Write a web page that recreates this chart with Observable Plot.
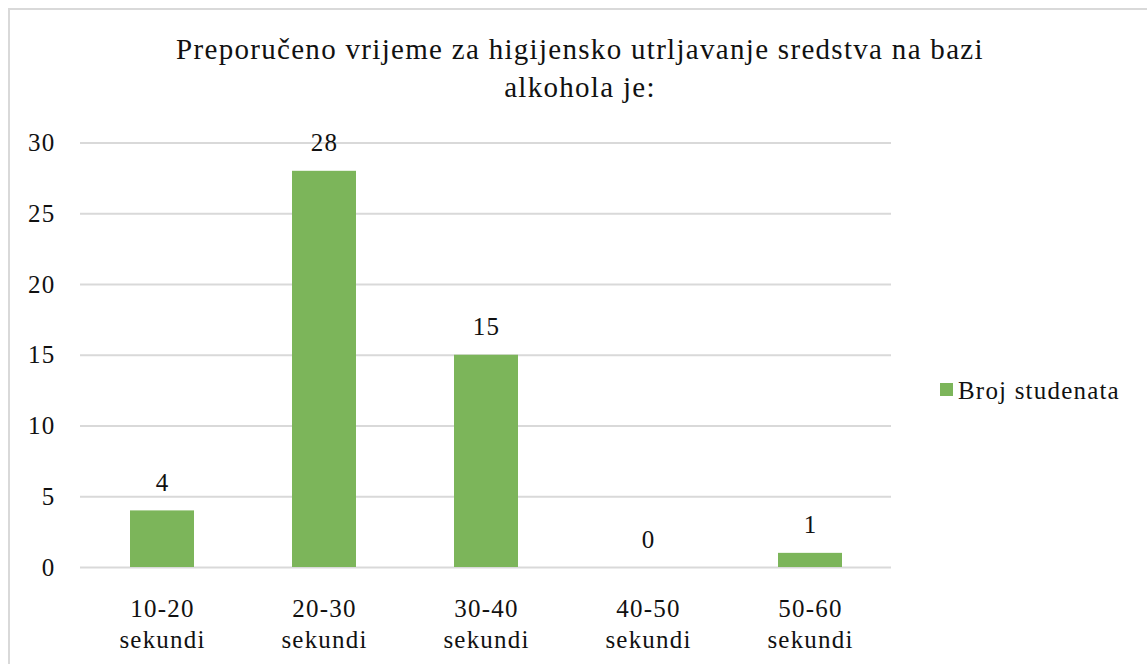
<!DOCTYPE html>
<html>
<head>
<meta charset="utf-8">
<script src="https://cdn.jsdelivr.net/npm/d3@7"></script>
<script src="https://cdn.jsdelivr.net/npm/@observablehq/plot@0.6"></script>
<style>
  html, body { margin: 0; padding: 0; background: #fff; overflow: hidden; }
  #wrap { position: relative; width: 1147px; height: 664px; overflow: hidden;
          font-family: "Liberation Serif", LiberationSerif, Tinos, "Times New Roman", Times, "DejaVu Serif", serif; color: #111; }
  #frame { position: absolute; left: 8px; top: 8px; width: 1200px; height: 700px;
           border: 2px solid #d9d9d9; box-sizing: border-box; }
  #title { position: absolute; left: 0; top: 30px; width: 1160px; text-align: center;
           font-size: 29px; line-height: 38px; letter-spacing: 1.3px; }
  #chart { position: absolute; left: 0; top: 110px; }
  #chart svg text { letter-spacing: 1.2px; font-family: "Liberation Serif", LiberationSerif, Tinos, "Times New Roman", Times, "DejaVu Serif", serif; }
  #swatch { position: absolute; left: 940px; top: 383px; width: 13px; height: 13px; background: #7cb55a; }
  #legtext { position: absolute; left: 958px; top: 376px; font-size: 25px; line-height: 30px;
             letter-spacing: 1.2px; white-space: nowrap; }
</style>
</head>
<body>
<div id="wrap">
  <div id="frame"></div>
  <div id="title"></div>
  <div id="chart"></div>
  <div id="swatch"></div>
  <div id="legtext"></div>
</div>
<script>
const titleLines = ["Preporučeno vrijeme za higijensko utrljavanje sredstva na bazi", "alkohola je:"];
const categories = ["10-20", "20-30", "30-40", "40-50", "50-60"];
const unitLabel = "sekundi";
const counts = [4, 28, 15, 0, 1];
const seriesName = "Broj studenata";
const yTicks = [0, 5, 10, 15, 20, 25, 30];
const barColor = "#7cb55a";
const serif = '"Liberation Serif", LiberationSerif, Tinos, "Times New Roman", Times, "DejaVu Serif", serif';

document.getElementById("title").innerHTML = titleLines.join("<br>");
document.getElementById("legtext").textContent = seriesName;

const data = categories.map((c, i) => ({category: c, count: counts[i]}));

const chart = Plot.plot({
  width: 1147,
  height: 554,
  marginLeft: 80,
  marginRight: 256,
  marginTop: 32.5,
  marginBottom: 97,
  style: {fontFamily: serif, fontSize: "25px",
          color: "#111", background: "transparent", overflow: "visible"},
  x: {domain: categories, paddingInner: 0.605, paddingOuter: 0.3025, label: null},
  y: {domain: [0, 30], label: null},
  marks: [
    Plot.gridY(yTicks, {stroke: "#d9d9d9", strokeOpacity: 1, strokeWidth: 2}),
    Plot.axisY({ticks: yTicks, tickSize: 0, tickPadding: 25, fontSize: 25, label: null}),
    Plot.axisX({tickSize: 0, tickPadding: 27, fontSize: 25, lineHeight: 1.24, label: null,
                tickFormat: d => d + "\n" + unitLabel}),
    Plot.barY(data, {x: "category", y: "count", fill: barColor}),
    Plot.text(data, {x: "category", y: "count", text: d => String(d.count),
                     dy: -28, lineAnchor: "middle", fontSize: 25, fill: "#111"})
  ]
});
document.getElementById("chart").appendChild(chart);
</script>
</body>
</html>
